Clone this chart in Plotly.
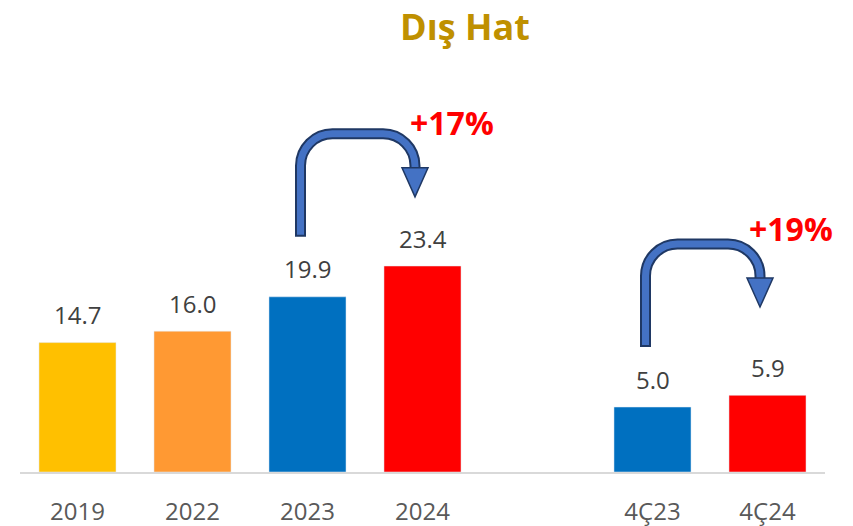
import plotly.graph_objects as go

# ---- data ----
annual_labels = ["2019", "2022", "2023", "2024"]
annual_values = [14.7, 16.0, 19.9, 23.4]
annual_colors = ["#FFC000", "#FF9933", "#0070C0", "#FF0000"]

quarter_labels = ["4Ç23", "4Ç24"]
quarter_values = [5.0, 5.9]
quarter_colors = ["#0070C0", "#FF0000"]

growth_labels = ["+17%", "+19%"]
title_text = "Dış Hat"

# ---- layout constants ----
W, H = 853, 526
ML, MR, MT, MB = 20, 28, 60, 54
PLOT_W = W - ML - MR
PLOT_H = H - MT - MB
X_RANGE = [-0.5, 6.5]
Y1_MAX = 46.8
Y2_MAX = 31.7

annual_x = list(range(len(annual_labels)))
quarter_x = [len(annual_labels) + 1 + i for i in range(len(quarter_labels))]

def px_x(p):
    return p * (X_RANGE[1] - X_RANGE[0]) / PLOT_W

def px_y(p, ymax):
    return p * ymax / PLOT_H

fig = go.Figure()
fig.add_trace(go.Bar(x=annual_x, y=annual_values, marker_color=annual_colors,
                     width=0.67, yaxis="y", hoverinfo="skip", showlegend=False))
fig.add_trace(go.Bar(x=quarter_x, y=quarter_values, marker_color=quarter_colors,
                     width=0.67, yaxis="y2", hoverinfo="skip", showlegend=False))

annotations = []
label_font = dict(family="Open Sans", size=24, color="#404040")
for xs, vs, yref in [(annual_x, annual_values, "y"), (quarter_x, quarter_values, "y2")]:
    for x, v in zip(xs, vs):
        annotations.append(dict(x=x, y=v, xref="x", yref=yref, text=f"{v:.1f}",
                                showarrow=False, yanchor="middle", yshift=28,
                                font=label_font))

# arrows: (from x, from value, to x, axis, ymax, label, label shifts)
arrow_specs = [
    (annual_x[2], annual_values[2], annual_x[3], "y", Y1_MAX, growth_labels[0], (29, 174)),
    (quarter_x[0], quarter_values[0], quarter_x[1], "y2", Y2_MAX, growth_labels[1], (23, 179)),
]

shapes = []
NAVY = "#1F3864"
BLUE = "#4472C4"
K = 0.552
for xa, va, xb, yref, ymax, lab, (lxs, lys) in arrow_specs:
    dy = lambda p: px_y(p, ymax)
    x0 = xa - px_x(7)
    x1 = xb - px_x(7.5)
    ys = va + dy(60)
    ytop = va + dy(163)
    yhead = va + dy(129)
    ytip = va + dy(100)
    rx, ry = px_x(32), dy(32)

    def path(start_y):
        return (f"M {x0},{start_y} L {x0},{ytop - ry} "
                f"C {x0},{ytop - ry + K * ry} {x0 + rx - K * rx},{ytop} {x0 + rx},{ytop} "
                f"L {x1 - rx},{ytop} "
                f"C {x1 - rx + K * rx},{ytop} {x1},{ytop - ry + K * ry} {x1},{ytop - ry} "
                f"L {x1},{yhead}")
    shapes.append(dict(type="path", path=path(ys), xref="x", yref=yref,
                       line=dict(color=NAVY, width=11), layer="above"))
    shapes.append(dict(type="path", path=path(ys + dy(2)), xref="x", yref=yref,
                       line=dict(color=BLUE, width=7), layer="above"))
    hw = px_x(13)
    shapes.append(dict(type="path",
                       path=f"M {x1 - hw},{yhead} L {x1 + hw},{yhead} L {x1},{ytip} Z",
                       xref="x", yref=yref, fillcolor=BLUE,
                       line=dict(color=NAVY, width=1.5), layer="above"))
    annotations.append(dict(x=xb, y=va, xref="x", yref=yref, text=f"<b>{lab}</b>",
                            showarrow=False, xshift=lxs, yshift=lys,
                            font=dict(family="Open Sans", size=32, color="#FF0000")))

annotations.append(dict(x=(465 - ML) / PLOT_W, y=1 + (MT - 26) / PLOT_H,
                        xref="paper", yref="paper", text=f"<b>{title_text}</b>",
                        showarrow=False, xanchor="center", yanchor="middle",
                        font=dict(family="Open Sans", size=36, color="#BF9000")))

fig.update_layout(
    width=W, height=H,
    margin=dict(l=ML, r=MR, t=MT, b=MB, autoexpand=False),
    paper_bgcolor="white", plot_bgcolor="white",
    bargap=0.33,
    xaxis=dict(range=X_RANGE, tickvals=annual_x + quarter_x,
               ticktext=annual_labels + quarter_labels,
               showline=True, linecolor="#D9D9D9", linewidth=2,
               showgrid=False, zeroline=False, ticks="",
               ticklabelstandoff=17, automargin=False,
               tickfont=dict(family="Open Sans", size=24, color="#595959")),
    yaxis=dict(range=[0, Y1_MAX], visible=False),
    yaxis2=dict(range=[0, Y2_MAX], overlaying="y", visible=False),
    annotations=annotations,
    shapes=shapes,
)

fig.write_html("out.html", config={"displayModeBar": False},
               post_script="document.body.style.margin='0';")
